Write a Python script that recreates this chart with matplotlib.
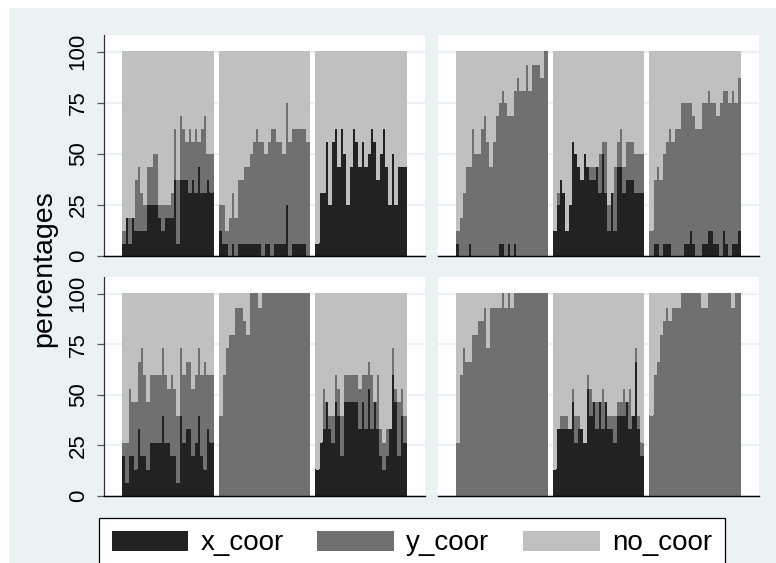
import matplotlib
matplotlib.use("Agg")
import numpy as np
import matplotlib.pyplot as plt
from matplotlib.patches import Patch, Rectangle

plt.rcParams["font.family"] = ["Liberation Sans", "DejaVu Sans"]

# counts per bar, three groups of 30 bars in each panel
# top panels are out of 16, bottom panels out of 15
tl_x = [1, 3, 1, 3, 2, 2, 2, 2, 4, 4, 4, 4, 3, 2, 3, 3, 3, 6, 1, 6, 6, 6, 5, 6, 5, 7, 5, 5, 6, 5,
        2, 1, 1, 0, 1, 0, 1, 1, 1, 1, 1, 1, 1, 1, 0, 1, 1, 0, 1, 1, 1, 1, 4, 0, 1, 1, 1, 1, 1, 0,
        1, 5, 5, 9, 4, 9, 10, 7, 10, 8, 4, 7, 10, 9, 7, 9, 7, 8, 10, 9, 6, 8, 10, 7, 4, 8, 4, 7, 7, 7]
tl_y = [1, 0, 2, 0, 4, 5, 3, 2, 3, 3, 4, 4, 1, 2, 1, 1, 2, 4, 5, 5, 4, 3, 5, 3, 5, 2, 5, 6, 2, 3,
        2, 3, 1, 3, 4, 3, 5, 5, 6, 6, 7, 8, 9, 8, 9, 7, 8, 10, 9, 8, 8, 7, 8, 9, 9, 9, 9, 9, 9, 9,
        0, 0, 0, 0, 0, 0, 0, 0, 0, 0, 0, 0, 0, 0, 0, 0, 0, 0, 0, 0, 0, 0, 0, 0, 0, 0, 0, 0, 0, 0]

tr_x = [1, 0, 0, 0, 1, 0, 0, 0, 0, 0, 0, 0, 0, 0, 1, 1, 0, 1, 0, 1, 0, 0, 0, 0, 0, 0, 0, 0, 0, 0,
        2, 4, 6, 5, 2, 4, 9, 8, 7, 6, 8, 7, 6, 6, 7, 5, 8, 5, 2, 5, 2, 7, 7, 5, 6, 6, 6, 5, 5, 5,
        0, 1, 1, 0, 1, 1, 1, 0, 0, 0, 0, 1, 1, 2, 1, 0, 0, 1, 1, 2, 2, 1, 1, 0, 2, 1, 0, 1, 1, 2]
tr_y = [1, 3, 5, 7, 6, 10, 8, 8, 10, 11, 9, 7, 9, 11, 11, 12, 12, 10, 11, 12, 14, 13, 13, 15, 13, 15, 15, 15, 14, 16,
        0, 1, 0, 0, 0, 0, 0, 0, 0, 0, 0, 0, 1, 1, 0, 3, 1, 4, 2, 0, 5, 2, 3, 2, 3, 3, 3, 3, 3, 3,
        2, 5, 6, 6, 7, 8, 9, 9, 10, 10, 12, 11, 11, 10, 10, 10, 10, 11, 11, 11, 10, 11, 10, 12, 11, 12, 12, 12, 11, 12]

bl_x = [3, 1, 3, 3, 2, 5, 3, 3, 2, 4, 4, 4, 4, 6, 4, 4, 3, 3, 1, 6, 4, 5, 5, 3, 4, 6, 3, 2, 5, 4,
        0, 0, 0, 0, 0, 0, 0, 0, 0, 0, 0, 0, 0, 0, 0, 0, 0, 0, 0, 0, 0, 0, 0, 0, 0, 0, 0, 0, 0, 0,
        2, 4, 5, 7, 5, 4, 7, 6, 3, 7, 7, 7, 7, 7, 5, 7, 5, 8, 5, 7, 5, 3, 2, 3, 5, 9, 7, 3, 6, 4]
bl_y = [1, 3, 5, 4, 5, 5, 8, 6, 5, 5, 5, 5, 5, 5, 5, 4, 6, 5, 5, 5, 5, 5, 5, 5, 5, 5, 6, 8, 4, 5,
        6, 9, 11, 12, 12, 14, 14, 14, 13, 12, 15, 15, 15, 14, 15, 15, 15, 15, 15, 15, 15, 15, 15, 15, 15, 15, 15, 15, 15, 15,
        0, 0, 3, 0, 1, 2, 2, 2, 3, 2, 2, 2, 2, 2, 3, 2, 4, 2, 4, 0, 4, 2, 2, 2, 0, 2, 1, 4, 2, 2]

br_x = [0, 0, 0, 0, 0, 0, 0, 0, 0, 0, 0, 0, 0, 0, 0, 0, 0, 0, 0, 0, 0, 0, 0, 0, 0, 0, 0, 0, 0, 0,
        2, 5, 5, 5, 5, 5, 7, 4, 5, 5, 4, 8, 6, 7, 5, 7, 5, 7, 5, 5, 4, 6, 6, 6, 7, 5, 6, 10, 5, 3,
        0, 0, 0, 0, 0, 0, 0, 0, 0, 0, 0, 0, 0, 0, 0, 0, 0, 0, 0, 0, 0, 0, 0, 0, 0, 0, 0, 0, 0, 0]
br_y = [4, 9, 11, 10, 10, 12, 12, 13, 13, 14, 11, 14, 14, 14, 14, 15, 14, 15, 14, 15, 15, 15, 15, 15, 15, 15, 15, 15, 15, 15,
        0, 0, 1, 1, 1, 0, 1, 2, 1, 0, 0, 1, 2, 0, 2, 0, 3, 0, 1, 1, 2, 1, 1, 2, 0, 3, 0, 1, 1, 1,
        6, 9, 10, 12, 13, 14, 13, 14, 14, 14, 15, 15, 15, 15, 15, 15, 15, 14, 14, 15, 15, 15, 15, 15, 15, 15, 15, 14, 15, 15]

totals = [16, 16, 15, 15]
series = ["x_coor", "y_coor", "no_coor"]
yticks = [0, 25, 50, 75, 100]

c_dark, c_mid, c_light = "#222222", "#707070", "#c0c0c0"
bg = "#eaf2f3"

W, H = 776, 563
fig = plt.figure(figsize=(W / 100, H / 100), dpi=100, facecolor=bg)
# white strip on the left and top edge of the picture
fig.patches.append(Rectangle((0, 0), 8 / W, 1, transform=fig.transFigure, color="white", zorder=0))
fig.patches.append(Rectangle((0, 1 - 7 / H), 1, 7 / H, transform=fig.transFigure, color="white", zorder=0))

boxes = [(104, 35, 321, 221), (438, 35, 321, 221), (104, 277, 321, 219), (438, 277, 321, 219)]
data = [(tl_x, tl_y), (tr_x, tr_y), (bl_x, bl_y), (br_x, br_y)]

for k, ((l, t, w, h), (xs, ys), n) in enumerate(zip(boxes, data, totals)):
    ax = fig.add_axes([l / W, 1 - (t + h) / H, w / W, h / H])
    xp = np.array(xs) / n * 100
    yp = np.array(ys) / n * 100
    no = 100 - xp - yp
    pos = np.array([g * 32 + i for g in range(3) for i in range(30)])
    kw = dict(width=1.0, linewidth=0, snap=False, antialiased=False)
    ax.bar(pos, xp, color=c_dark, **kw)
    ax.bar(pos, yp, bottom=xp, color=c_mid, **kw)
    ax.bar(pos, no, bottom=xp + yp, color=c_light, **kw)
    ax.set_xlim(-6.5, 99.5)
    ax.set_ylim(0, 108.2)
    ax.set_xticks([])
    ax.set_yticks(yticks)
    ax.set_axisbelow(True)
    ax.grid(axis="y", color=bg, linewidth=1.6)
    for s in ["top", "right"]:
        ax.spines[s].set_visible(False)
    ax.spines["bottom"].set_color("black")
    ax.spines["bottom"].set_linewidth(1.0)
    if k % 2 == 0:
        ax.spines["left"].set_color("#333333")
        ax.spines["left"].set_linewidth(0.9)
        ax.set_yticklabels([str(v) for v in yticks], rotation=90, va="center", fontsize=16)
        ax.tick_params(axis="y", length=5, width=0.9, color="#555555", pad=6)
    else:
        ax.spines["left"].set_visible(False)
        ax.tick_params(axis="y", length=0, labelleft=False)

fig.text(44 / W, 1 - 269 / H, "percentages", rotation=90, ha="center", va="center", fontsize=20.5)

handles = [Patch(facecolor=c, edgecolor="none") for c in (c_dark, c_mid, c_light)]
leg = fig.legend(handles, series, loc="upper left", ncol=3, mode="expand",
                 bbox_to_anchor=(99 / W, 0, 626 / W, 1 - 518 / H),
                 fontsize=20, frameon=True, fancybox=False, edgecolor="black",
                 framealpha=1, borderaxespad=0, handlelength=2.77, handleheight=0.72,
                 handletextpad=0.43, borderpad=0.45)
leg.get_frame().set_linewidth(0.9)

fig.savefig("out.png", dpi=100, facecolor=bg)
